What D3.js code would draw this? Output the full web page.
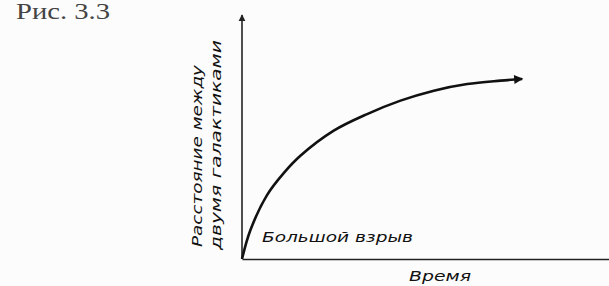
<!DOCTYPE html>
<html>
<head>
<meta charset="utf-8">
<script src="https://cdn.jsdelivr.net/npm/d3@7"></script>
<style>
  body { margin: 0; background: #fcfcfc; }
  svg { display: block; }
  text { fill: #111; }
</style>
</head>
<body>
<svg id="chart" width="609" height="286"></svg>
<script>
// curve (arbitrary units)
let times = [0, 0.25, 0.75, 1.25, 1.75, 2.75, 3.75, 4.75, 5.75, 6.75, 7.75, 8.4];
let distances = [0, 1.18, 2.62, 3.52, 4.23, 5.26, 5.94, 6.49, 6.9, 7.17, 7.31, 7.38];
let xLabel = "Время";
let yLabelLines = ["Расстояние между", "двумя галактиками"];
let pointLabel = "Большой взрыв";
let figTitle = "Рис. 3.3";

let svg = d3.select("#chart");
const margin = {top: 15, right: 0, bottom: 27, left: 242};
let width = +svg.attr("width");
let height = +svg.attr("height");

let x = d3.scaleLinear().domain([0, 11]).range([margin.left, width - margin.right]);
let y = d3.scaleLinear().domain([0, 10]).range([height - margin.bottom, margin.top]);

// arrowheads
let defs = svg.append("defs");
defs.append("marker")
  .attr("id", "arrowAxis")
  .attr("viewBox", "0 0 10 10")
  .attr("refX", 9).attr("refY", 5)
  .attr("markerWidth", 7).attr("markerHeight", 9)
  .attr("markerUnits", "userSpaceOnUse")
  .attr("orient", "auto")
  .append("path").attr("d", "M0,0 L10,5 L0,10 Z").attr("fill", "#222");
defs.append("marker")
  .attr("id", "arrowCurve")
  .attr("viewBox", "0 0 10 10")
  .attr("refX", 9).attr("refY", 5)
  .attr("markerWidth", 10).attr("markerHeight", 9)
  .attr("markerUnits", "userSpaceOnUse")
  .attr("orient", "auto")
  .append("path").attr("d", "M0,0 L10,5 L0,10 Z").attr("fill", "#111");

// axes: only the domain lines, no ticks
let xAxis = svg.append("g")
  .attr("transform", "translate(0," + y(0) + ")")
  .call(d3.axisBottom(x).tickValues([]).tickSizeOuter(0));
xAxis.select(".domain").attr("stroke", "#222").attr("stroke-width", 1.6);

let yAxis = svg.append("g")
  .attr("transform", "translate(" + x(0) + ",0)")
  .call(d3.axisLeft(y).tickValues([]).tickSizeOuter(0));
yAxis.select(".domain")
  .attr("stroke", "#222").attr("stroke-width", 1.6)
  .attr("d", "M0," + y(0) + "V" + y(10))
  .attr("marker-end", "url(#arrowAxis)");

// the curve
let line = d3.line()
  .x((d, i) => x(times[i]))
  .y(d => y(d))
  .curve(d3.curveCatmullRom.alpha(0.5));

svg.append("path")
  .datum(distances)
  .attr("d", line)
  .attr("fill", "none")
  .attr("stroke", "#111")
  .attr("stroke-width", 2.6)
  .attr("marker-end", "url(#arrowCurve)");

// texts
let hand = "'DejaVu Sans Condensed', 'DejaVu Sans', sans-serif";

svg.append("text")
  .attr("x", 16).attr("y", 19)
  .attr("font-family", "'Liberation Serif', serif")
  .attr("font-size", 23)
  .attr("textLength", 94)
  .attr("lengthAdjust", "spacingAndGlyphs")
  .style("fill", "#444")
  .text(figTitle);

svg.append("text")
  .attr("x", 262).attr("y", 242)
  .attr("font-family", hand)
  .attr("font-style", "italic")
  .attr("font-size", 14)
  .attr("textLength", 151)
  .attr("lengthAdjust", "spacingAndGlyphs")
  .text(pointLabel);

svg.append("text")
  .attr("x", 440).attr("y", 281)
  .attr("text-anchor", "middle")
  .attr("font-family", hand)
  .attr("font-style", "italic")
  .attr("font-size", 14)
  .attr("textLength", 62)
  .attr("lengthAdjust", "spacingAndGlyphs")
  .text(xLabel);

// y label: two rotated lines
let yLab = [
  {cx: 197, cy: 156, len: 182},
  {cx: 216, cy: 145, len: 210}
];
yLab.forEach((p, i) => {
  svg.append("text")
    .attr("transform", "translate(" + p.cx + "," + p.cy + ") rotate(-90)")
    .attr("text-anchor", "middle")
    .attr("dominant-baseline", "central")
    .attr("font-family", hand)
    .attr("font-style", "italic")
    .attr("font-size", 14)
    .attr("textLength", p.len)
    .attr("lengthAdjust", "spacingAndGlyphs")
    .text(yLabelLines[i]);
});
</script>
</body>
</html>
